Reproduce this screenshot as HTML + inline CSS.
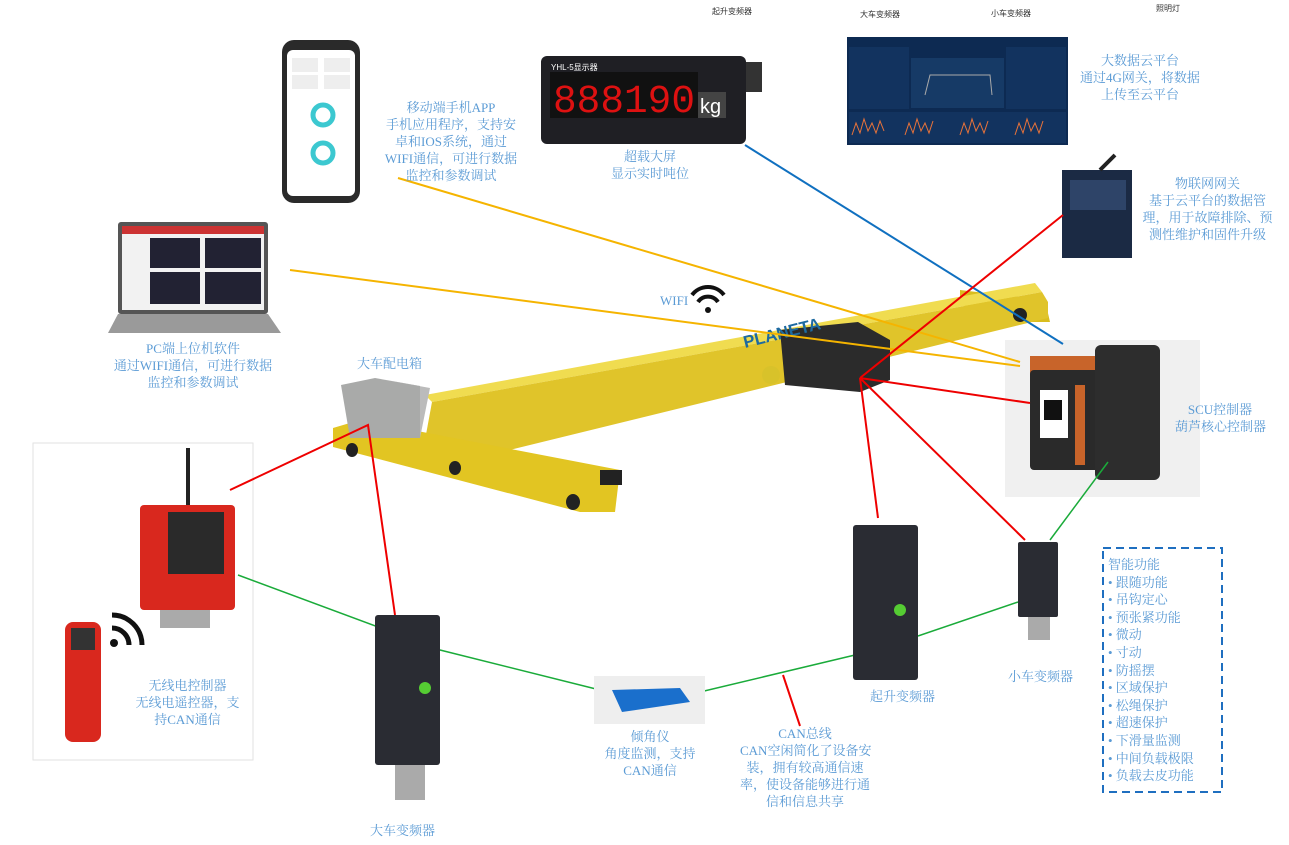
<!DOCTYPE html>
<html><head><meta charset="utf-8">
<style>
body{margin:0;width:1289px;height:845px;background:#fff;position:relative;overflow:hidden;font-family:"Liberation Serif","Noto Serif CJK SC",serif}
.t{position:absolute;color:#5b9bd5;font-size:13px;line-height:17px;text-align:center;white-space:nowrap}
.s{position:absolute;font-size:8px;color:#333;font-family:"Liberation Sans","Noto Sans CJK SC",sans-serif}
svg{position:absolute;left:0;top:0}
</style></head><body>
<svg width="1289" height="845">
<rect x="33" y="443" width="220" height="317" fill="#fff" stroke="#e2e2e2"/>
<!-- phone -->
<rect x="282" y="40" width="78" height="163" rx="12" fill="#2a2a2a"/>
<rect x="287" y="50" width="68" height="146" rx="6" fill="#fff"/>
<rect x="292" y="58" width="26" height="14" fill="#eee"/><rect x="324" y="58" width="26" height="14" fill="#eee"/>
<rect x="292" y="75" width="26" height="14" fill="#eee"/><rect x="324" y="75" width="26" height="14" fill="#eee"/>
<circle cx="323" cy="115" r="10" fill="none" stroke="#3cc8d0" stroke-width="5"/>
<circle cx="323" cy="153" r="10" fill="none" stroke="#3cc8d0" stroke-width="5"/>
<!-- display -->
<rect x="541" y="56" width="205" height="88" rx="6" fill="#1f1f24"/>
<rect x="746" y="62" width="16" height="30" fill="#333"/>
<rect x="550" y="72" width="148" height="46" fill="#111"/>
<text x="553" y="112" font-family="Liberation Mono" font-size="40" fill="#d11" textLength="142" lengthAdjust="spacingAndGlyphs">888190</text>
<rect x="698" y="92" width="28" height="26" fill="#444"/>
<text x="700" y="113" font-size="20" font-family="Liberation Sans" fill="#fff">kg</text>
<text x="551" y="70" font-size="8" font-family="Liberation Sans" fill="#fff">YHL-5显示器</text>
<!-- dashboard -->
<rect x="847" y="37" width="221" height="108" fill="#0d2a52"/>
<rect x="849" y="47" width="60" height="62" fill="#12335f"/><rect x="1006" y="47" width="60" height="62" fill="#12335f"/>
<rect x="911" y="58" width="93" height="50" fill="#163a66"/>
<polyline points="925,95 930,75 990,75 992,95" fill="none" stroke="#aaa"/>
<rect x="849" y="112" width="217" height="31" fill="#12335f"/>
<path d="M852,135 l4,-12 4,10 4,-14 4,12 4,-8 4,10 4,-12 4,10 M905,135 l4,-12 4,10 4,-14 4,12 4,-8 4,10 4,-12 M960,135 l4,-12 4,10 4,-14 4,12 4,-8 4,10 4,-12 M1015,135 l4,-12 4,10 4,-14 4,12 4,-8 4,10 4,-12" stroke="#e8733a" fill="none"/>
<!-- gateway -->
<rect x="1062" y="170" width="70" height="88" fill="#1b2a44"/>
<rect x="1070" y="180" width="56" height="30" fill="#2e4468"/>
<line x1="1100" y1="170" x2="1115" y2="155" stroke="#222" stroke-width="4"/>
<!-- laptop -->
<rect x="118" y="222" width="150" height="92" rx="3" fill="#555"/>
<rect x="122" y="226" width="142" height="84" fill="#f2f2f2"/>
<rect x="122" y="226" width="142" height="8" fill="#c33"/>
<rect x="150" y="238" width="50" height="30" fill="#223"/><rect x="205" y="238" width="56" height="30" fill="#223"/>
<rect x="150" y="272" width="50" height="32" fill="#223"/><rect x="205" y="272" width="56" height="32" fill="#223"/>
<polygon points="118,314 268,314 281,333 108,333" fill="#9a9a9a"/>
<!-- crane -->
<polygon points="960,290 1045,300 1050,322 1010,322 960,305" fill="#d9bd1e"/>
<polygon points="425,395 1035,283 1042,292 432,402" fill="#f0dc50"/>
<polygon points="432,402 1042,292 1048,302 1048,318 485,456 425,440" fill="#e0c42a"/>
<polygon points="333,428 360,420 620,470 615,512 580,512 333,447" fill="#e2c522"/>
<ellipse cx="352" cy="450" rx="6" ry="7" fill="#222"/><ellipse cx="455" cy="468" rx="6" ry="7" fill="#222"/>
<ellipse cx="573" cy="502" rx="7" ry="8" fill="#222"/>
<rect x="600" y="470" width="22" height="15" fill="#222"/>
<ellipse cx="1020" cy="315" rx="7" ry="7" fill="#222"/>
<polygon points="341,385 375,378 420,386 420,438 350,438" fill="#a9aaa9"/>
<polygon points="375,378 430,388 420,438 420,386" fill="#bbb"/>
<polygon points="780,330 858,322 890,340 890,380 860,392 785,385" fill="#2b2b2b"/>
<text x="745" y="348" font-size="17" font-family="Liberation Sans" font-weight="bold" fill="#1d6aa0" transform="rotate(-14 745 348)">PLANETA</text>
<circle cx="771" cy="375" r="9" fill="#d8c22a"/>
<!-- SCU -->
<rect x="1005" y="340" width="195" height="157" fill="#f0f0f0"/>
<rect x="1030" y="356" width="80" height="22" fill="#c8642a"/>
<rect x="1030" y="370" width="80" height="100" rx="4" fill="#2a2a2a"/>
<rect x="1095" y="345" width="65" height="135" rx="6" fill="#2d2d2d"/>
<rect x="1040" y="390" width="28" height="48" fill="#fff"/><rect x="1044" y="400" width="18" height="20" fill="#111"/>
<rect x="1075" y="385" width="10" height="80" fill="#c8642a"/>
<!-- lines -->
<g fill="none" stroke-width="2">
<line x1="398" y1="178" x2="1020" y2="362" stroke="#f5b400"/>
<line x1="290" y1="270" x2="1020" y2="366" stroke="#f5b400"/>
<line x1="745" y1="145" x2="1063" y2="344" stroke="#1070c0"/>
<polyline points="230,490 368,425 395,615" stroke="#e00"/>
<line x1="860" y1="378" x2="1063" y2="215" stroke="#e00"/>
<line x1="860" y1="378" x2="1030" y2="403" stroke="#e00"/>
<line x1="860" y1="378" x2="878" y2="518" stroke="#e00"/>
<line x1="860" y1="378" x2="1025" y2="540" stroke="#e00"/>
<line x1="783" y1="675" x2="800" y2="726" stroke="#e00"/>
<polyline points="238,575 440,650 600,690" stroke="#1aab3a" stroke-width="1.5"/>
<polyline points="700,692 855,655" stroke="#1aab3a" stroke-width="1.5"/>
<polyline points="918,636 1018,602" stroke="#1aab3a" stroke-width="1.5"/>
<polyline points="1050,540 1108,462" stroke="#1aab3a" stroke-width="1.5"/>
</g>
<g fill="none" stroke="#111" stroke-width="4"><path d="M692,295 a20,20 0 0 1 32,0"/><path d="M698,302 a12,12 0 0 1 20,0"/></g><circle cx="708" cy="310" r="3" fill="#111"/>
<line x1="188" y1="448" x2="188" y2="505" stroke="#222" stroke-width="4"/>
<rect x="140" y="505" width="95" height="105" rx="4" fill="#d9281e"/>
<rect x="168" y="512" width="56" height="62" fill="#2a2a2a"/>
<rect x="160" y="610" width="50" height="18" fill="#aaa"/>
<g fill="none" stroke="#111" stroke-width="5"><path d="M112,615 a30,30 0 0 1 30,30"/><path d="M112,628 a17,17 0 0 1 17,17"/></g><circle cx="114" cy="643" r="4" fill="#111"/>
<rect x="65" y="622" width="36" height="120" rx="8" fill="#d9281e"/>
<rect x="71" y="628" width="24" height="22" fill="#333"/>
<rect x="375" y="615" width="65" height="150" rx="3" fill="#2a2c33"/><rect x="395" y="765" width="30" height="35" fill="#aaa"/>
<circle cx="425" cy="688" r="6" fill="#5c3"/>
<rect x="853" y="525" width="65" height="155" rx="3" fill="#2a2c33"/><circle cx="900" cy="610" r="6" fill="#5c3"/>
<rect x="1018" y="542" width="40" height="75" rx="2" fill="#2a2c33"/><rect x="1028" y="617" width="22" height="23" fill="#aaa"/>
<rect x="594" y="676" width="111" height="48" fill="#eee"/>
<polygon points="612,690 680,688 690,702 622,712" fill="#1a6fcc"/>
<rect x="1103" y="548" width="119" height="244" fill="none" stroke="#1f6fc0" stroke-width="2" stroke-dasharray="8,5"/>
</svg>
<div class="s" style="left:712px;top:6px">起升变频器</div>
<div class="s" style="left:860px;top:9px">大车变频器</div>
<div class="s" style="left:991px;top:8px">小车变频器</div>
<div class="s" style="left:1156px;top:3px">照明灯</div>
<div class="t" style="left:383px;top:99px;width:136px;white-space:normal">移动端手机APP<br>手机应用程序，支持安卓和IOS系统，通过WIFI通信，可进行数据监控和参数调试</div>
<div class="t" style="left:590px;top:148px;width:120px">超载大屏<br>显示实时吨位</div>
<div class="t" style="left:1070px;top:52px;width:140px">大数据云平台<br>通过4G网关，将数据<br>上传至云平台</div>
<div class="t" style="left:1140px;top:175px;width:135px">物联网网关<br>基于云平台的数据管<br>理，用于故障排除、预<br>测性维护和固件升级</div>
<div class="t" style="left:108px;top:340px;width:170px">PC端上位机软件<br>通过WIFI通信，可进行数据<br>监控和参数调试</div>
<div class="t" style="left:660px;top:292px">WIFI</div>
<div class="t" style="left:357px;top:355px">大车配电箱</div>
<div class="t" style="left:1175px;top:401px;width:90px">SCU控制器<br>葫芦核心控制器</div>
<div class="t" style="left:125px;top:677px;width:125px">无线电控制器<br>无线电遥控器，支<br>持CAN通信</div>
<div class="t" style="left:600px;top:728px;width:100px">倾角仪<br>角度监测，支持<br>CAN通信</div>
<div class="t" style="left:740px;top:725px;width:130px">CAN总线<br>CAN空闲简化了设备安<br>装，拥有较高通信速<br>率，使设备能够进行通<br>信和信息共享</div>
<div class="t" style="left:870px;top:688px">起升变频器</div>
<div class="t" style="left:1008px;top:668px">小车变频器</div>
<div class="t" style="left:370px;top:822px">大车变频器</div>
<div class="t" style="left:1108px;top:556px;text-align:left;line-height:17.6px">智能功能<br>• 跟随功能<br>• 吊钩定心<br>• 预张紧功能<br>• 微动<br>• 寸动<br>• 防摇摆<br>• 区域保护<br>• 松绳保护<br>• 超速保护<br>• 下滑量监测<br>• 中间负载极限<br>• 负载去皮功能</div>
</body></html>
